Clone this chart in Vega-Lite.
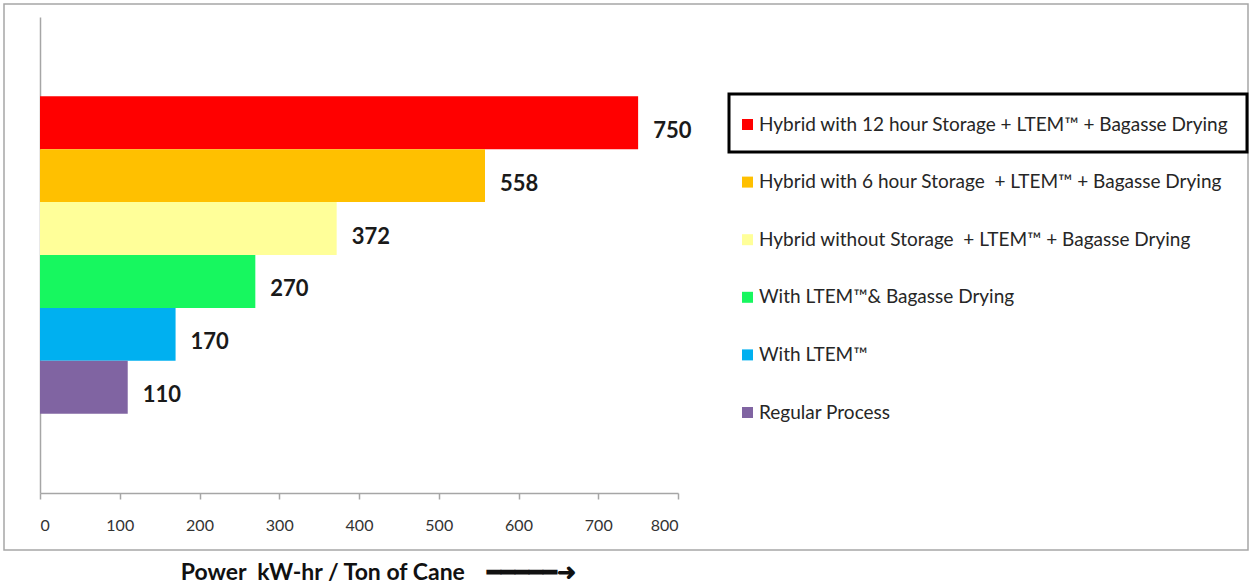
{
  "$schema": "https://vega.github.io/schema/vega-lite/v6.json",
  "width": 1244,
  "height": 546,
  "autosize": {"type": "none"},
  "padding": {"left": 4, "top": 4, "right": 4, "bottom": 38},
  "background": "white",
  "config": {
    "view": {"stroke": "#a6a6a6", "strokeWidth": 1.5},
    "font": "Lato"
  },
  "data": {
    "values": [
      {"category": "Hybrid with 12 hour Storage + LTEM™ + Bagasse Drying", "value": 750},
      {"category": "Hybrid with 6 hour Storage\u00a0 + LTEM™ + Bagasse Drying", "value": 558},
      {"category": "Hybrid without Storage\u00a0 + LTEM™ + Bagasse Drying", "value": 372},
      {"category": "With LTEM™& Bagasse Drying", "value": 270},
      {"category": "With LTEM™", "value": 170},
      {"category": "Regular Process", "value": 110}
    ]
  },
  "layer": [
    {
      "encoding": {
        "x": {
          "field": "value",
          "type": "quantitative",
          "scale": {"domain": [0, 800], "range": [36, 674], "nice": false, "zero": true},
          "axis": {
            "orient": "bottom",
            "offset": -57,
            "values": [0, 100, 200, 300, 400, 500, 600, 700, 800],
            "grid": false,
            "domainColor": "#a6a6a6",
            "domainWidth": 1.5,
            "tickColor": "#a6a6a6",
            "tickWidth": 1.5,
            "tickSize": 6,
            "labelFont": "Lato",
            "labelFontSize": 16,
            "labelColor": "#333333",
            "labelPadding": 18,
            "title": "Power\u00a0\u00a0kW-hr / Ton of Cane\u00a0\u00a0\u00a0\u00a0━━━━━➜",
            "titleFont": "Lato",
            "titleFontSize": 23,
            "titleFontWeight": "bold",
            "titleColor": "#111111",
            "titlePadding": 28,
            "titleX": 374,
            "titleAlign": "center"
          }
        },
        "y": {
          "field": "category",
          "type": "nominal",
          "scale": {
            "domain": [
              "_top",
              "Hybrid with 12 hour Storage + LTEM™ + Bagasse Drying",
              "Hybrid with 6 hour Storage\u00a0 + LTEM™ + Bagasse Drying",
              "Hybrid without Storage\u00a0 + LTEM™ + Bagasse Drying",
              "With LTEM™& Bagasse Drying",
              "With LTEM™",
              "Regular Process",
              "_bottom"
            ],
            "range": [13, 489],
            "paddingInner": 0,
            "paddingOuter": 0.5
          },
          "axis": {
            "orient": "left",
            "offset": -36,
            "labels": false,
            "ticks": false,
            "title": null,
            "grid": false,
            "domainColor": "#a6a6a6",
            "domainWidth": 1.5
          }
        }
      },
      "layer": [
        {
          "mark": {"type": "bar"},
          "encoding": {
            "color": {
              "field": "category",
              "type": "nominal",
              "scale": {
                "domain": [
                  "Hybrid with 12 hour Storage + LTEM™ + Bagasse Drying",
                  "Hybrid with 6 hour Storage\u00a0 + LTEM™ + Bagasse Drying",
                  "Hybrid without Storage\u00a0 + LTEM™ + Bagasse Drying",
                  "With LTEM™& Bagasse Drying",
                  "With LTEM™",
                  "Regular Process"
                ],
                "range": ["#FF0000", "#FFC000", "#FFFF99", "#17F75F", "#00B0F0", "#8064A2"]
              },
              "legend": {
                "orient": "none",
                "legendX": 734,
                "legendY": 111,
                "title": null,
                "symbolType": "square",
                "symbolSize": 121,
                "symbolStrokeWidth": 0,
                "symbolOpacity": 1,
                "labelFont": "Lato",
                "labelFontSize": 19,
                "labelColor": "#262626",
                "labelLimit": 700,
                "labelOffset": 2,
                "rowPadding": 37.6,
                "padding": 0
              }
            }
          }
        },
        {
          "mark": {
            "type": "text",
            "align": "left",
            "baseline": "middle",
            "dx": 15,
            "dy": 8,
            "font": "Lato",
            "fontSize": 22,
            "fontWeight": "bold",
            "color": "#1a1a1a"
          },
          "encoding": {
            "text": {"field": "value", "type": "quantitative"}
          }
        }
      ]
    },
    {
      "transform": [{"filter": "datum.value == 750"}],
      "mark": {"type": "bar", "fillOpacity": 0, "stroke": "#000000", "strokeWidth": 3},
      "encoding": {
        "x": {
          "field": "value",
          "type": "quantitative",
          "scale": {"domain": [0, 750], "range": [725, 1243], "nice": false, "zero": true},
          "axis": null
        },
        "y": {
          "field": "category",
          "type": "nominal",
          "scale": {
            "domain": [
              "Hybrid with 12 hour Storage + LTEM™ + Bagasse Drying",
              "Hybrid with 6 hour Storage\u00a0 + LTEM™ + Bagasse Drying",
              "Hybrid without Storage\u00a0 + LTEM™ + Bagasse Drying",
              "With LTEM™& Bagasse Drying",
              "With LTEM™",
              "Regular Process"
            ],
            "range": [90, 438],
            "paddingInner": 0,
            "paddingOuter": 0
          },
          "axis": null
        }
      }
    }
  ],
  "resolve": {"scale": {"x": "independent", "y": "independent", "color": "independent"}}
}
